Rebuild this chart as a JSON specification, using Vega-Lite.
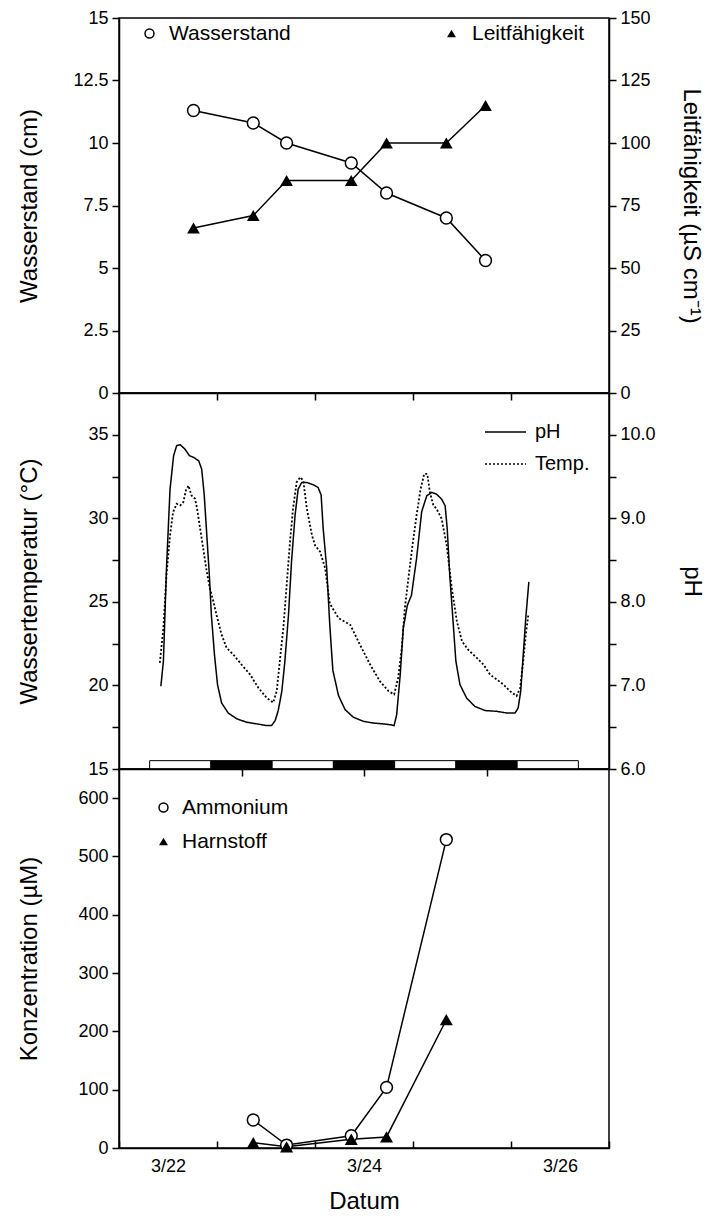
{
  "$schema": "https://vega.github.io/schema/vega-lite/v6.json",
  "background": "white",
  "padding": {"left": 17, "top": 8, "right": 5, "bottom": 5},
  "spacing": 0,
  "bounds": "flush",
  "datasets": {
    "oben": [
      {"Tag": 0.76, "Wasserstand": 11.3, "Leitfaehigkeit": 66},
      {"Tag": 1.37, "Wasserstand": 10.8, "Leitfaehigkeit": 71},
      {"Tag": 1.71, "Wasserstand": 10.0, "Leitfaehigkeit": 85},
      {"Tag": 2.37, "Wasserstand": 9.2, "Leitfaehigkeit": 85},
      {"Tag": 2.73, "Wasserstand": 8.0, "Leitfaehigkeit": 100},
      {"Tag": 3.34, "Wasserstand": 7.0, "Leitfaehigkeit": 100},
      {"Tag": 3.74, "Wasserstand": 5.3, "Leitfaehigkeit": 115}
    ],
    "licht": [
      {"Beginn": 6, "Ende": 18, "Phase": "hell"},
      {"Beginn": 18, "Ende": 30, "Phase": "dunkel"},
      {"Beginn": 30, "Ende": 42, "Phase": "hell"},
      {"Beginn": 42, "Ende": 54, "Phase": "dunkel"},
      {"Beginn": 54, "Ende": 66, "Phase": "hell"},
      {"Beginn": 66, "Ende": 78, "Phase": "dunkel"},
      {"Beginn": 78, "Ende": 90, "Phase": "hell"}
    ],
    "ph": [
      {"Stunde": 8.2, "pH": 6.99}, {"Stunde": 8.7, "pH": 7.29}, {"Stunde": 9.3, "pH": 8.40}, {"Stunde": 10.0, "pH": 9.35},
      {"Stunde": 10.7, "pH": 9.75}, {"Stunde": 11.3, "pH": 9.87}, {"Stunde": 12.0, "pH": 9.88}, {"Stunde": 12.9, "pH": 9.83},
      {"Stunde": 13.8, "pH": 9.75}, {"Stunde": 14.6, "pH": 9.73}, {"Stunde": 15.6, "pH": 9.69}, {"Stunde": 16.2, "pH": 9.59},
      {"Stunde": 16.7, "pH": 9.28}, {"Stunde": 17.2, "pH": 8.80}, {"Stunde": 17.7, "pH": 8.32}, {"Stunde": 18.1, "pH": 7.84},
      {"Stunde": 18.7, "pH": 7.37}, {"Stunde": 19.3, "pH": 7.01}, {"Stunde": 20.1, "pH": 6.79}, {"Stunde": 21.4, "pH": 6.67},
      {"Stunde": 23.1, "pH": 6.60}, {"Stunde": 25.0, "pH": 6.56}, {"Stunde": 27.0, "pH": 6.54}, {"Stunde": 28.9, "pH": 6.52},
      {"Stunde": 29.9, "pH": 6.52}, {"Stunde": 30.6, "pH": 6.58}, {"Stunde": 31.2, "pH": 6.70}, {"Stunde": 31.9, "pH": 6.93},
      {"Stunde": 32.5, "pH": 7.29}, {"Stunde": 33.2, "pH": 7.84}, {"Stunde": 33.8, "pH": 8.48}, {"Stunde": 34.5, "pH": 9.04},
      {"Stunde": 35.1, "pH": 9.35}, {"Stunde": 35.8, "pH": 9.43}, {"Stunde": 36.8, "pH": 9.43}, {"Stunde": 38.1, "pH": 9.40},
      {"Stunde": 39.0, "pH": 9.37}, {"Stunde": 39.6, "pH": 9.28}, {"Stunde": 40.0, "pH": 8.88}, {"Stunde": 40.7, "pH": 8.40},
      {"Stunde": 41.3, "pH": 7.72}, {"Stunde": 41.9, "pH": 7.18}, {"Stunde": 43.0, "pH": 6.88}, {"Stunde": 44.3, "pH": 6.71},
      {"Stunde": 45.9, "pH": 6.62}, {"Stunde": 47.9, "pH": 6.57}, {"Stunde": 49.8, "pH": 6.55}, {"Stunde": 51.8, "pH": 6.54},
      {"Stunde": 53.1, "pH": 6.53}, {"Stunde": 53.9, "pH": 6.52}, {"Stunde": 54.4, "pH": 6.65}, {"Stunde": 55.1, "pH": 7.13},
      {"Stunde": 55.7, "pH": 7.69}, {"Stunde": 56.5, "pH": 7.96}, {"Stunde": 57.3, "pH": 8.08}, {"Stunde": 58.3, "pH": 8.52},
      {"Stunde": 59.3, "pH": 9.08}, {"Stunde": 60.3, "pH": 9.27}, {"Stunde": 61.3, "pH": 9.31}, {"Stunde": 62.2, "pH": 9.29},
      {"Stunde": 63.2, "pH": 9.23}, {"Stunde": 63.9, "pH": 9.15}, {"Stunde": 64.3, "pH": 8.88}, {"Stunde": 64.8, "pH": 8.32},
      {"Stunde": 65.4, "pH": 7.81}, {"Stunde": 66.0, "pH": 7.29}, {"Stunde": 66.8, "pH": 7.01}, {"Stunde": 68.1, "pH": 6.85},
      {"Stunde": 69.7, "pH": 6.75}, {"Stunde": 71.7, "pH": 6.70}, {"Stunde": 74.0, "pH": 6.69}, {"Stunde": 76.0, "pH": 6.67},
      {"Stunde": 77.6, "pH": 6.67}, {"Stunde": 78.2, "pH": 6.73}, {"Stunde": 78.7, "pH": 6.93}, {"Stunde": 79.2, "pH": 7.37},
      {"Stunde": 79.7, "pH": 7.81}, {"Stunde": 80.3, "pH": 8.24}
    ],
    "temp": [
      {"Stunde": 8.0, "Temp": 21.35}, {"Stunde": 8.7, "Temp": 23.43}, {"Stunde": 9.3, "Temp": 26.6}, {"Stunde": 10.0, "Temp": 28.99},
      {"Stunde": 10.6, "Temp": 30.38}, {"Stunde": 11.3, "Temp": 30.87}, {"Stunde": 12.0, "Temp": 30.77}, {"Stunde": 12.6, "Temp": 30.97},
      {"Stunde": 13.1, "Temp": 31.67}, {"Stunde": 13.6, "Temp": 31.96}, {"Stunde": 14.2, "Temp": 31.37}, {"Stunde": 14.9, "Temp": 31.17},
      {"Stunde": 15.3, "Temp": 30.58}, {"Stunde": 15.9, "Temp": 29.38}, {"Stunde": 16.5, "Temp": 28.19}, {"Stunde": 17.2, "Temp": 26.8},
      {"Stunde": 17.8, "Temp": 25.81}, {"Stunde": 18.5, "Temp": 25.02}, {"Stunde": 19.1, "Temp": 24.23}, {"Stunde": 20.1, "Temp": 23.04},
      {"Stunde": 21.1, "Temp": 22.24}, {"Stunde": 22.4, "Temp": 21.85}, {"Stunde": 24.0, "Temp": 21.25}, {"Stunde": 25.7, "Temp": 20.65},
      {"Stunde": 27.3, "Temp": 19.86}, {"Stunde": 28.9, "Temp": 19.27}, {"Stunde": 30.2, "Temp": 18.97}, {"Stunde": 30.9, "Temp": 19.66},
      {"Stunde": 31.5, "Temp": 21.45}, {"Stunde": 32.2, "Temp": 23.43}, {"Stunde": 32.9, "Temp": 26.21}, {"Stunde": 33.5, "Temp": 28.59},
      {"Stunde": 34.1, "Temp": 30.58}, {"Stunde": 34.8, "Temp": 32.16}, {"Stunde": 35.5, "Temp": 32.46}, {"Stunde": 36.1, "Temp": 32.26},
      {"Stunde": 36.8, "Temp": 30.58}, {"Stunde": 37.8, "Temp": 28.99}, {"Stunde": 38.4, "Temp": 28.39}, {"Stunde": 39.4, "Temp": 28.0},
      {"Stunde": 40.4, "Temp": 27.0}, {"Stunde": 41.3, "Temp": 24.9}, {"Stunde": 43.0, "Temp": 24.03}, {"Stunde": 45.3, "Temp": 23.63},
      {"Stunde": 47.2, "Temp": 22.44}, {"Stunde": 49.2, "Temp": 21.25}, {"Stunde": 51.1, "Temp": 20.26}, {"Stunde": 52.8, "Temp": 19.66},
      {"Stunde": 53.9, "Temp": 19.46}, {"Stunde": 54.7, "Temp": 20.46}, {"Stunde": 55.4, "Temp": 22.24}, {"Stunde": 56.0, "Temp": 24.62},
      {"Stunde": 56.7, "Temp": 26.41}, {"Stunde": 57.5, "Temp": 28.39}, {"Stunde": 58.3, "Temp": 30.18}, {"Stunde": 59.1, "Temp": 31.77},
      {"Stunde": 59.8, "Temp": 32.66}, {"Stunde": 60.4, "Temp": 32.66}, {"Stunde": 60.9, "Temp": 31.57}, {"Stunde": 61.6, "Temp": 30.77},
      {"Stunde": 62.2, "Temp": 30.58}, {"Stunde": 63.2, "Temp": 29.98}, {"Stunde": 64.2, "Temp": 28.39}, {"Stunde": 65.2, "Temp": 25.81},
      {"Stunde": 66.2, "Temp": 23.83}, {"Stunde": 67.2, "Temp": 22.64}, {"Stunde": 68.4, "Temp": 22.14}, {"Stunde": 70.1, "Temp": 21.65},
      {"Stunde": 71.4, "Temp": 21.25}, {"Stunde": 72.7, "Temp": 20.65}, {"Stunde": 74.0, "Temp": 20.36}, {"Stunde": 75.3, "Temp": 20.06},
      {"Stunde": 76.6, "Temp": 19.66}, {"Stunde": 77.9, "Temp": 19.37}, {"Stunde": 78.6, "Temp": 19.86}, {"Stunde": 79.2, "Temp": 21.45},
      {"Stunde": 79.7, "Temp": 23.04}, {"Stunde": 80.2, "Temp": 24.23}
    ],
    "unten": [
      {"Tag": 1.37, "Stoff": "Ammonium", "Konz": 48},
      {"Tag": 1.71, "Stoff": "Ammonium", "Konz": 5},
      {"Tag": 2.37, "Stoff": "Ammonium", "Konz": 21},
      {"Tag": 2.73, "Stoff": "Ammonium", "Konz": 104},
      {"Tag": 3.34, "Stoff": "Ammonium", "Konz": 529},
      {"Tag": 1.37, "Stoff": "Harnstoff", "Konz": 9},
      {"Tag": 1.71, "Stoff": "Harnstoff", "Konz": 2},
      {"Tag": 2.37, "Stoff": "Harnstoff", "Konz": 15},
      {"Tag": 2.73, "Stoff": "Harnstoff", "Konz": 19},
      {"Tag": 3.34, "Stoff": "Harnstoff", "Konz": 220}
    ]
  },
  "vconcat": [
    {
      "width": 490,
      "height": 375,
      "data": {"name": "oben"},
      "layer": [
        {
          "layer": [
            {
              "mark": {"type": "line", "color": "black", "strokeWidth": 1.5},
              "encoding": {
                "x": {"field": "Tag", "type": "quantitative", "scale": {"domain": [0, 5], "nice": false}, "axis": {"values": [1, 2, 3, 4], "labels": false, "title": null}},
                "y": {"field": "Wasserstand", "type": "quantitative", "title": "Wasserstand (cm)", "scale": {"domain": [0, 15], "nice": false}, "axis": {"orient": "left", "values": [0, 2.5, 5, 7.5, 10, 12.5, 15], "format": ".1~f", "titlePadding": 31}}
              }
            },
            {
              "mark": {"type": "point", "filled": true, "fill": "white", "stroke": "black", "strokeWidth": 1.5, "size": 140, "opacity": 1},
              "encoding": {
                "x": {"field": "Tag", "type": "quantitative", "scale": {"domain": [0, 5], "nice": false}},
                "y": {"field": "Wasserstand", "type": "quantitative", "title": "Wasserstand (cm)", "scale": {"domain": [0, 15], "nice": false}},
                "shape": {"datum": "Wasserstand", "scale": {"range": ["circle"]}, "legend": {"orient": "none", "legendX": 20, "legendY": 5, "title": null, "labelOffset": 9, "symbolSize": 80, "encode": {"symbols": {"fill": {"value": "white"}, "stroke": {"value": "black"}, "strokeWidth": {"value": 1.5}}}}}
              }
            }
          ]
        },
        {
          "layer": [
            {
              "mark": {"type": "line", "color": "black", "strokeWidth": 1.5},
              "encoding": {
                "x": {"field": "Tag", "type": "quantitative", "scale": {"domain": [0, 5], "nice": false}},
                "y": {"field": "Leitfaehigkeit", "type": "quantitative", "title": "Leitfähigkeit (µS cm⁻¹)", "scale": {"domain": [0, 150], "nice": false}, "axis": {"orient": "right", "values": [0, 12.5, 25, 37.5, 50, 62.5, 75, 87.5, 100, 112.5, 125, 137.5, 150], "labelExpr": "datum.value % 25 == 0 ? format(datum.value, 'd') : ''", "titlePadding": 28}}
              }
            },
            {
              "mark": {"type": "point", "filled": true, "color": "black", "size": 160, "opacity": 1},
              "encoding": {
                "x": {"field": "Tag", "type": "quantitative", "scale": {"domain": [0, 5], "nice": false}},
                "y": {"field": "Leitfaehigkeit", "type": "quantitative", "title": "Leitfähigkeit (µS cm⁻¹)", "scale": {"domain": [0, 150], "nice": false}},
                "shape": {"datum": "Leitfähigkeit", "scale": {"range": ["triangle-up"]}, "legend": {"orient": "none", "legendX": 322, "legendY": 5, "title": null, "labelOffset": 10, "symbolSize": 80, "encode": {"symbols": {"fill": {"value": "black"}, "stroke": {"value": "black"}}}}}
              }
            }
          ]
        }
      ],
      "resolve": {"scale": {"y": "independent", "shape": "independent"}, "legend": {"shape": "independent"}}
    },
    {
      "width": 490,
      "height": 376,
      "layer": [
        {
          "layer": [
            {
              "data": {"name": "temp"},
              "mark": {"type": "line", "color": "black", "strokeWidth": 1.8},
              "encoding": {
                "x": {"field": "Stunde", "type": "quantitative", "scale": {"domain": [0, 96], "nice": false}, "axis": {"values": [24, 48, 72], "labels": false, "title": null}},
                "y": {"field": "Temp", "type": "quantitative", "title": "Wassertemperatur (°C)", "scale": {"domain": [15, 37.5], "nice": false}, "axis": {"orient": "left", "values": [15, 17.5, 20, 22.5, 25, 27.5, 30, 32.5, 35], "labelExpr": "datum.value % 5 == 0 ? format(datum.value, 'd') : ''", "titlePadding": 46}},
                "strokeDash": {"datum": "Temp.", "scale": {"domain": ["pH", "Temp."], "range": [[1, 0], [2, 2]]}, "legend": {"orient": "none", "legendX": 365, "legendY": 392.5, "title": null, "symbolType": "stroke", "symbolSize": 1681, "symbolStrokeWidth": 1.5, "symbolStrokeColor": "black", "labelOffset": 8, "rowPadding": -6, "labelFontSize": 20}}
              }
            },
            {
              "data": {"name": "licht"},
              "mark": {"type": "rect", "stroke": "black", "strokeWidth": 1},
              "encoding": {
                "x": {"field": "Beginn", "type": "quantitative", "scale": {"domain": [0, 96], "nice": false}},
                "x2": {"field": "Ende"},
                "y": {"datum": 15, "type": "quantitative", "title": "Wassertemperatur (°C)", "scale": {"domain": [15, 37.5], "nice": false}},
                "y2": {"datum": 15.5},
                "fill": {"field": "Phase", "type": "nominal", "scale": {"domain": ["hell", "dunkel"], "range": ["white", "black"]}, "legend": null}
              }
            }
          ]
        },
        {
          "data": {"name": "ph"},
          "mark": {"type": "line", "color": "black", "strokeWidth": 1.5},
          "encoding": {
            "x": {"field": "Stunde", "type": "quantitative", "scale": {"domain": [0, 96], "nice": false}},
            "y": {"field": "pH", "type": "quantitative", "title": "pH", "scale": {"domain": [6, 10.5], "nice": false}, "axis": {"orient": "right", "values": [6, 6.5, 7, 7.5, 8, 8.5, 9, 9.5, 10], "labelExpr": "datum.value % 1 == 0 ? format(datum.value, '.1f') : ''", "titlePadding": 24}},
            "strokeDash": {"datum": "pH", "legend": {"orient": "none", "legendX": 365, "legendY": 392.5, "title": null, "symbolType": "stroke", "symbolSize": 1681, "symbolStrokeWidth": 1.5, "symbolStrokeColor": "black", "labelOffset": 8, "rowPadding": -6, "labelFontSize": 20}}
          }
        }
      ],
      "resolve": {"scale": {"y": "independent"}}
    },
    {
      "width": 490,
      "height": 379,
      "data": {"name": "unten"},
      "layer": [
        {
          "mark": {"type": "line", "color": "black", "strokeWidth": 1.5},
          "encoding": {
            "x": {"field": "Tag", "type": "quantitative", "title": "Datum", "scale": {"domain": [0, 5], "nice": false}, "axis": {"values": [0, 1, 2, 3, 4, 5], "labelExpr": "datum.value == 0 ? '3/22' : datum.value == 2 ? '3/24' : datum.value == 4 ? '3/26' : ''", "labelOffset": 49, "labelFlush": false, "labelOverlap": false, "tickSize": -7, "labelPadding": 16, "titlePadding": 14}},
            "y": {"field": "Konz", "type": "quantitative", "title": "Konzentration (µM)", "scale": {"domain": [0, 650], "nice": false}, "axis": {"values": [0, 50, 100, 150, 200, 250, 300, 350, 400, 450, 500, 550, 600], "labelExpr": "datum.value % 100 == 0 ? format(datum.value, 'd') : ''", "titlePadding": 36}},
            "detail": {"field": "Stoff", "type": "nominal"}
          }
        },
        {
          "transform": [{"filter": "datum.Stoff == 'Ammonium'"}],
          "mark": {"type": "point", "filled": true, "fill": "white", "stroke": "black", "strokeWidth": 1.5, "size": 140, "opacity": 1},
          "encoding": {
            "x": {"field": "Tag", "type": "quantitative", "title": "Datum", "scale": {"domain": [0, 5], "nice": false}},
            "y": {"field": "Konz", "type": "quantitative", "title": "Konzentration (µM)", "scale": {"domain": [0, 650], "nice": false}},
            "shape": {"datum": "Ammonium", "scale": {"range": ["circle"]}, "legend": {"orient": "none", "legendX": 34, "legendY": 28, "title": null, "labelOffset": 8, "symbolSize": 80, "encode": {"symbols": {"fill": {"value": "white"}, "stroke": {"value": "black"}, "strokeWidth": {"value": 1.5}}}}}
          }
        },
        {
          "transform": [{"filter": "datum.Stoff == 'Harnstoff'"}],
          "mark": {"type": "point", "filled": true, "color": "black", "size": 170, "opacity": 1},
          "encoding": {
            "x": {"field": "Tag", "type": "quantitative", "title": "Datum", "scale": {"domain": [0, 5], "nice": false}},
            "y": {"field": "Konz", "type": "quantitative", "title": "Konzentration (µM)", "scale": {"domain": [0, 650], "nice": false}},
            "shape": {"datum": "Harnstoff", "scale": {"range": ["triangle-up"]}, "legend": {"orient": "none", "legendX": 34, "legendY": 62, "title": null, "labelOffset": 8, "symbolSize": 80, "encode": {"symbols": {"fill": {"value": "black"}, "stroke": {"value": "black"}}}}}
          }
        }
      ],
      "resolve": {"scale": {"shape": "independent"}, "legend": {"shape": "independent"}}
    }
  ],
  "config": {
    "font": "Liberation Sans",
    "view": {"stroke": "black", "strokeWidth": 1.5},
    "axis": {
      "grid": false,
      "domainColor": "black",
      "domainWidth": 1.5,
      "tickColor": "black",
      "tickWidth": 1.5,
      "tickSize": 7,
      "labelColor": "black",
      "labelFontSize": 18,
      "labelPadding": 4,
      "titleColor": "black",
      "titleFontSize": 24,
      "titleFontWeight": "normal"
    },
    "legend": {
      "labelFontSize": 21,
      "labelColor": "black",
      "padding": 0,
      "symbolStrokeWidth": 1.5
    }
  }
}
